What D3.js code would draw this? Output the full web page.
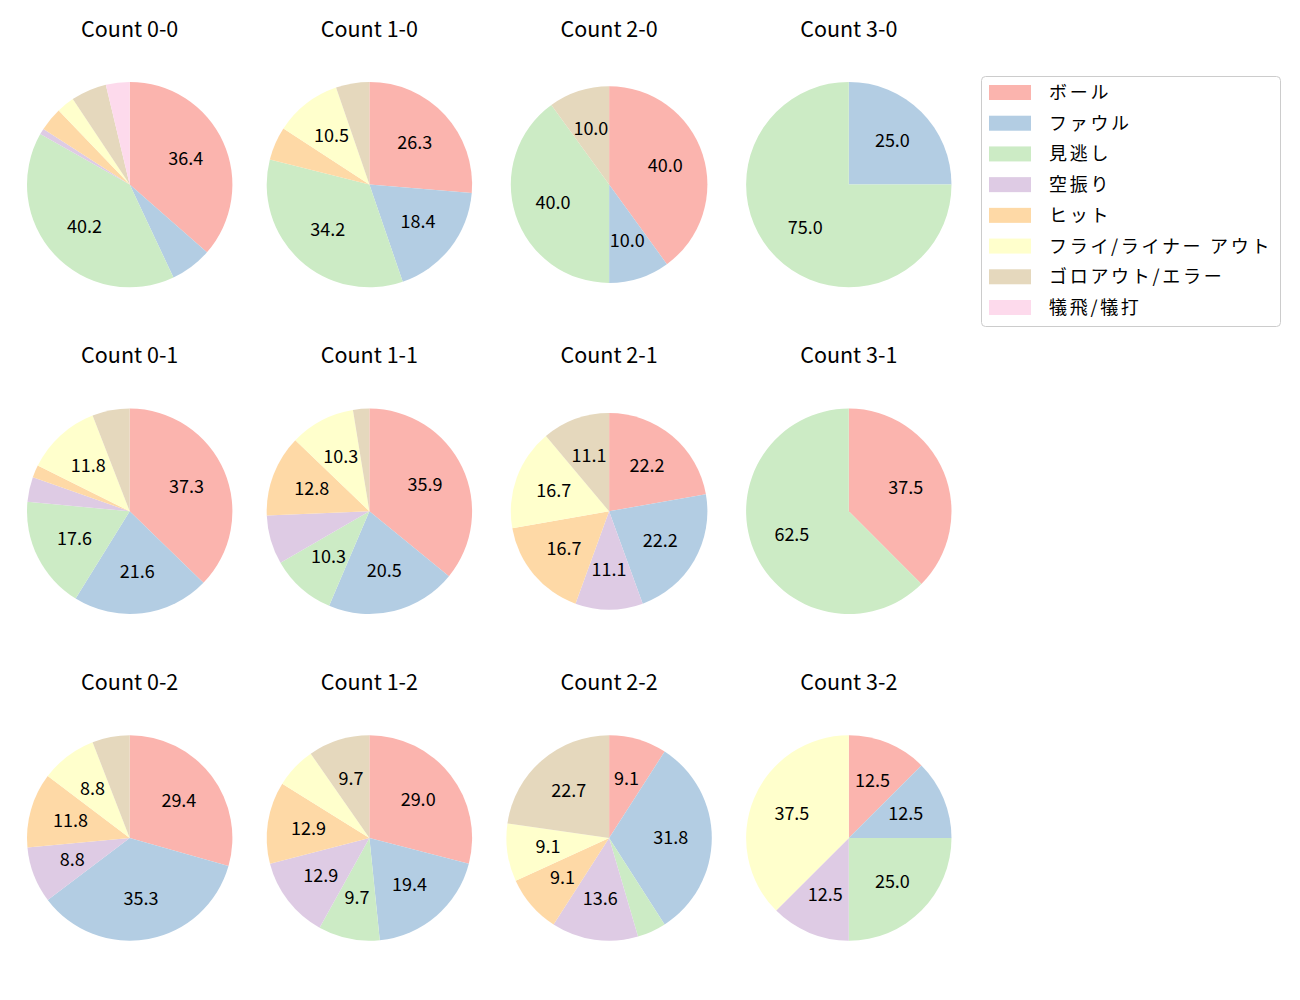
<!DOCTYPE html>
<html><head><meta charset="utf-8">
<script src="https://cdn.jsdelivr.net/npm/d3@7"></script>
<style>body{margin:0;background:#fff;} svg{display:block;}</style>
</head><body>
<script>
const categories = ["ボール","ファウル","見逃し","空振り","ヒット","フライ/ライナー アウト","ゴロアウト/エラー","犠飛/犠打"];
const colors = ["#fbb4ae","#b3cde3","#ccebc5","#decbe4","#fed9a6","#ffffcc","#e5d8bd","#fddaec"];
const titles = ["Count 0-0","Count 1-0","Count 2-0","Count 3-0",
                "Count 0-1","Count 1-1","Count 2-1","Count 3-1",
                "Count 0-2","Count 1-2","Count 2-2","Count 3-2"];
const c00 = [39,7,43,1,4,3,6,4];
const c10 = [10,7,13,0,2,4,2,0];
const c20 = [4,1,4,0,0,0,1,0];
const c30 = [0,1,3,0,0,0,0,0];
const c01 = [19,11,9,2,1,6,3,0];
const c11 = [14,8,4,3,5,4,1,0];
const c21 = [4,4,0,2,3,3,2,0];
const c31 = [3,0,5,0,0,0,0,0];
const c02 = [10,12,0,3,4,3,2,0];
const c12 = [9,6,3,4,4,2,3,0];
const c22 = [2,7,1,3,2,2,5,0];
const c32 = [1,1,2,1,0,3,0,0];
const series = [c00,c10,c20,c30,c01,c11,c21,c31,c02,c12,c22,c32];

const W = 1300, H = 1000;
const font = "'Noto Sans CJK JP','Noto Sans',sans-serif";
const svg = d3.select("body").append("svg").attr("width",W).attr("height",H)
  .style("font-family",font);

const colX = d3.scaleLinear().domain([0,3]).range([129.7,848.8]);
const rowY = d3.scaleLinear().domain([0,2]).range([184.6,838]);
const smallPies = new Set([2,6]);

const pie = d3.pie().sort(null).value(d=>d).startAngle(0).endAngle(2*Math.PI);

series.forEach((vals,i)=>{
  const col = i%4, row = Math.floor(i/4);
  const cx = colX(col), cy = rowY(row);
  const r = smallPies.has(i) ? 98.3 : 102.7;
  const total = d3.sum(vals);
  const g = svg.append("g").attr("transform",`translate(${cx},${cy})`);
  const arcs = pie(vals);
  const arc = d3.arc().innerRadius(0).outerRadius(r);
  g.selectAll("path").data(arcs).join("path")
    .attr("d",arc).attr("fill",(d,j)=>colors[j]);
  const lab = d3.arc().innerRadius(0.6*r).outerRadius(0.6*r);
  g.selectAll("text").data(arcs.filter(d=>d.value/total*100>=8)).join("text")
    .attr("transform",d=>{const [x,y]=lab.centroid(d); return `translate(${x},${y-2})`;})
    .attr("text-anchor","middle").attr("dominant-baseline","central")
    .attr("font-size",18).attr("fill","#000")
    .text(d=>(d.value/total*100).toFixed(1));
  svg.append("text").attr("x",cx).attr("y",cy-157.6)
    .attr("text-anchor","middle").attr("dominant-baseline","central")
    .attr("font-size",21.5).attr("fill","#000").text(titles[i]);
});

// legend
const lg = svg.append("g");
lg.append("rect").attr("x",981.5).attr("y",76.5).attr("width",299).attr("height",250)
  .attr("rx",4).attr("fill","#fff").attr("fill-opacity",0.8).attr("stroke","#cccccc");
const ly = d3.scaleLinear().domain([0,7]).range([92.5,307.5]);
categories.forEach((c,j)=>{
  lg.append("rect").attr("x",989).attr("y",ly(j)-7.5).attr("width",42).attr("height",15).attr("fill",colors[j]);
  lg.append("text").attr("x",1049).attr("y",ly(j)-1.5).attr("dominant-baseline","central")
    .attr("font-size",18).attr("letter-spacing","2.7px").attr("fill","#000").text(c);
});
</script>
</body></html>
